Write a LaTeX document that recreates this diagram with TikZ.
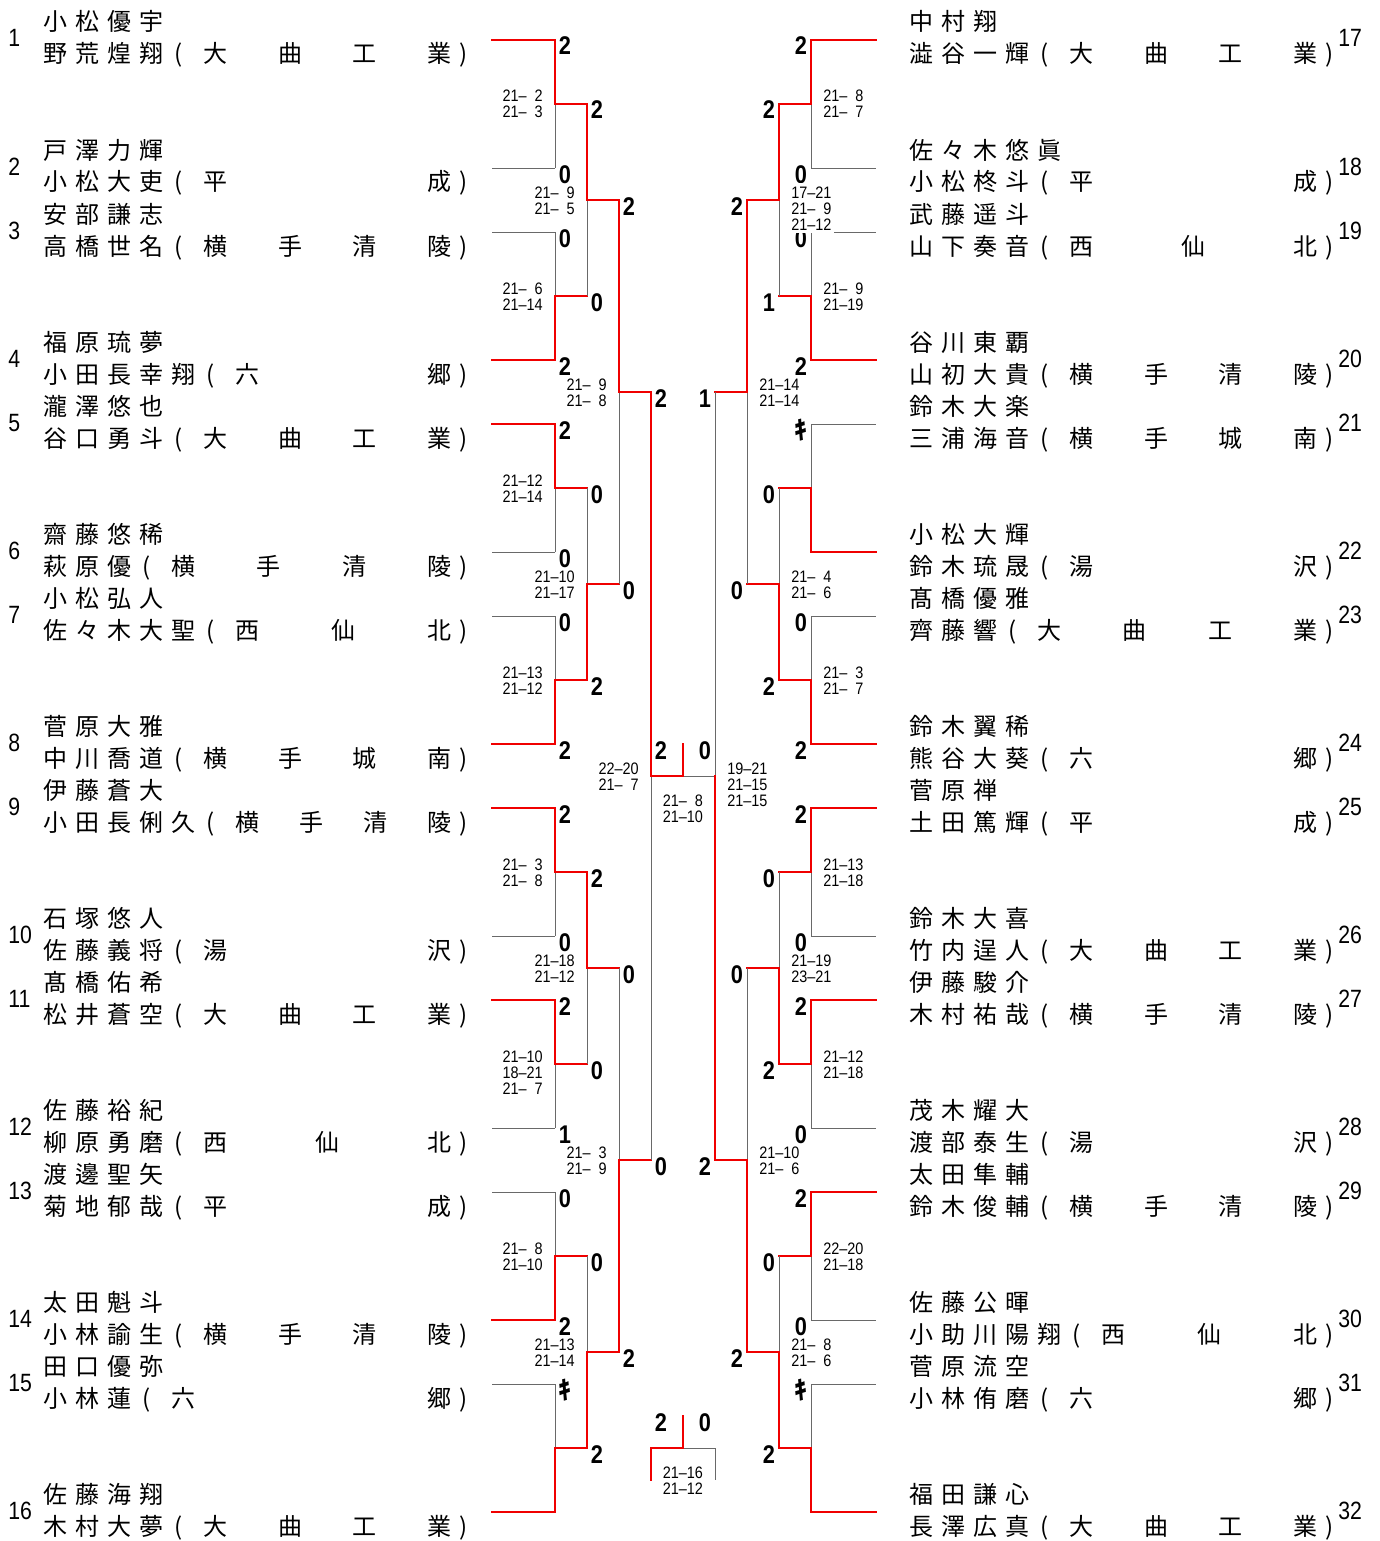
\documentclass[tikz,border=0pt]{standalone}
\usepackage{fontspec}
\setmainfont{Noto Sans CJK JP}
\newfontfamily\cjk{Noto Sans CJK JP}
\newfontfamily\latn{Liberation Sans}[FakeStretch=0.85]
\newfontfamily\latnn{Liberation Sans}[FakeStretch=0.87]
\definecolor{winred}{RGB}{240,0,0}
\definecolor{losegray}{RGB}{105,105,105}

\tikzset{
  win/.style={draw=winred,line width=1pt,line cap=rect},
  lose/.style={draw=losegray,line width=0.5pt},
  nm/.style={inner sep=0pt,font=\cjk\fontsize{12pt}{14pt}\selectfont},
  num/.style={inner sep=0pt,font=\latn\fontsize{12.5pt}{14pt}\selectfont},
  digit/.style={inner sep=0pt,anchor=base,font=\latn\bfseries\fontsize{12.8pt}{14pt}\selectfont},
  game/.style={inner sep=0pt,font=\latnn\fontsize{8.3pt}{8pt}\selectfont}
}

% Zeichen in festen Zellen bzw. gleichmaessig verteilt
\def\cellrow#1{\cellrowA#1\relax}
\def\cellrowA#1{\ifx#1\relax\else\makebox[16pt]{#1}\expandafter\cellrowA\fi}
\def\spreadrow#1{\spreadfirst#1\relax}
\def\spreadfirst#1{\makebox[16pt]{#1}\spreadrest}
\def\spreadrest#1{\ifx#1\relax\else\hfill\makebox[16pt]{#1}\expandafter\spreadrest\fi}
\newcommand\gm[2]{\makebox[8pt][r]{#1}\makebox[4pt]{\textendash}\makebox[8pt][r]{#2}}
\newcommand\ki{{\cjk\bfseries ｷ}}

% Spieler links / rechts
\newcommand\plL[5]{%
  \node[num,anchor=base west] (n#1) at (8,#2+7) {#1};
  \node[nm,anchor=base west] (p#1a) at (39,#2-9) {\cellrow{#3}};
  \node[nm,anchor=base west] (p#1b) at (39,#2+23)
    {\hbox to 208pt{\cellrow{#4}\makebox[16pt]{\hspace*{-5pt}(}\spreadrow{#5}}\kern2pt)};
}
\newcommand\plR[5]{%
  \node[num,anchor=base west] (n#1) at (1338,#2+7) {#1};
  \node[nm,anchor=base west] (p#1a) at (905,#2-9) {\cellrow{#3}};
  \node[nm,anchor=base west] (p#1b) at (905,#2+23)
    {\hbox to 208pt{\cellrow{#4}\makebox[16pt]{\hspace*{-5pt}(}\spreadrow{#5}}\kern2pt)};
}

% Spiel: x der Senkrechten, y oben, y unten, Sieger t/b, Saetze oben/unten, Ergebnisse
\newcommand\matchL[8][]{%
  \pgfmathsetmacro\ym{(#3+#4)/2}
  \if#5t
    \draw[lose] (#2,\ym) -- (#2,#4);
    \draw[win] (#2,#3) -- (#2,\ym) -- ++(32,0);
  \else
    \draw[lose] (#2,#3) -- (#2,\ym);
    \draw[win] (#2,#4) -- (#2,\ym) -- ++(32,0);
  \fi
  \node[digit] at (#2+10,#3+15) {#6};
  \node[digit] at (#2+10,#4+15) {#7};
  \def\gl{#8}\ifx\gl\empty\else
  \foreach \a/\b [count=\j from 0] in {#8}
    \node[game,anchor=base east,#1] at (#2-12,\ym-2+16*\j) {\gm{\a}{\b}};
  \fi
}
\newcommand\matchR[8][]{%
  \pgfmathsetmacro\ym{(#3+#4)/2}
  \if#5t
    \draw[lose] (#2,\ym) -- (#2,#4);
    \draw[win] (#2,#3) -- (#2,\ym) -- ++(-32,0);
  \else
    \draw[lose] (#2,#3) -- (#2,\ym);
    \draw[win] (#2,#4) -- (#2,\ym) -- ++(-32,0);
  \fi
  \node[digit] at (#2-10,#3+15) {#6};
  \node[digit] at (#2-10,#4+15) {#7};
  \def\gl{#8}\ifx\gl\empty\else
  \foreach \a/\b [count=\j from 0] in {#8}
    \node[game,anchor=base west,#1] at (#2+12,\ym-2+16*\j) {\gm{\a}{\b}};
  \fi
}

\begin{document}
\begin{tikzpicture}[x=0.5pt,y=-0.5pt]
\useasboundingbox (0,0) rectangle (1380,1541);
% Spieler links
\plL{1}{40}{小松優宇}{野荒煌翔}{大曲工業}
\plL{2}{168}{戸澤力輝}{小松大吏}{平成}
\plL{3}{232}{安部謙志}{高橋世名}{横手清陵}
\plL{4}{360}{福原琉夢}{小田長幸翔}{六郷}
\plL{5}{424}{瀧澤悠也}{谷口勇斗}{大曲工業}
\plL{6}{552}{齋藤悠稀}{萩原優}{横手清陵}
\plL{7}{616}{小松弘人}{佐々木大聖}{西仙北}
\plL{8}{744}{菅原大雅}{中川喬道}{横手城南}
\plL{9}{808}{伊藤蒼大}{小田長俐久}{横手清陵}
\plL{10}{936}{石塚悠人}{佐藤義将}{湯沢}
\plL{11}{1000}{髙橋佑希}{松井蒼空}{大曲工業}
\plL{12}{1128}{佐藤裕紀}{柳原勇磨}{西仙北}
\plL{13}{1192}{渡邊聖矢}{菊地郁哉}{平成}
\plL{14}{1320}{太田魁斗}{小林諭生}{横手清陵}
\plL{15}{1384}{田口優弥}{小林蓮}{六郷}
\plL{16}{1512}{佐藤海翔}{木村大夢}{大曲工業}
% Spieler rechts
\plR{17}{40}{中村翔}{澁谷一輝}{大曲工業}
\plR{18}{168}{佐々木悠眞}{小松柊斗}{平成}
\plR{19}{232}{武藤遥斗}{山下奏音}{西仙北}
\plR{20}{360}{谷川東覇}{山初大貴}{横手清陵}
\plR{21}{424}{鈴木大楽}{三浦海音}{横手城南}
\plR{22}{552}{小松大輝}{鈴木琉晟}{湯沢}
\plR{23}{616}{髙橋優雅}{齊藤響}{大曲工業}
\plR{24}{744}{鈴木翼稀}{熊谷大葵}{六郷}
\plR{25}{808}{菅原禅}{土田篤輝}{平成}
\plR{26}{936}{鈴木大喜}{竹内逞人}{大曲工業}
\plR{27}{1000}{伊藤駿介}{木村祐哉}{横手清陵}
\plR{28}{1128}{茂木耀大}{渡部泰生}{湯沢}
\plR{29}{1192}{太田隼輔}{鈴木俊輔}{横手清陵}
\plR{30}{1320}{佐藤公暉}{小助川陽翔}{西仙北}
\plR{31}{1384}{菅原流空}{小林侑磨}{六郷}
\plR{32}{1512}{福田謙心}{長澤広真}{大曲工業}
% Startlinien
\foreach \y/\w in {40/1,168/0,232/0,360/1,424/1,552/0,616/0,744/1,808/1,936/0,1000/1,1128/0,1192/0,1320/1,1384/0,1512/1}
  {\ifnum\w=1 \draw[win] (492,\y) -- (555,\y); \else \draw[lose] (492,\y) -- (555,\y); \fi}
\foreach \y/\w in {40/1,168/0,232/0,360/1,424/0,552/1,616/0,744/1,808/1,936/0,1000/1,1128/0,1192/1,1320/0,1384/0,1512/1}
  {\ifnum\w=1 \draw[win] (811,\y) -- (876,\y); \else \draw[lose] (811,\y) -- (876,\y); \fi}
% 1. Runde
\matchL{555}{40}{168}{t}{2}{0}{21/2,21/3}
\matchL{555}{232}{360}{b}{0}{2}{21/6,21/14}
\matchL{555}{424}{552}{t}{2}{0}{21/12,21/14}
\matchL{555}{616}{744}{b}{0}{2}{21/13,21/12}
\matchL{555}{808}{936}{t}{2}{0}{21/3,21/8}
\matchL{555}{1000}{1128}{t}{2}{1}{21/10,18/21,21/7}
\matchL{555}{1192}{1320}{b}{0}{2}{21/8,21/10}
\matchL{555}{1384}{1512}{b}{\ki}{}{}
\matchR{811}{40}{168}{t}{2}{0}{21/8,21/7}
\matchR{811}{232}{360}{b}{0}{2}{21/9,21/19}
\matchR{811}{424}{552}{b}{\ki}{}{}
\matchR{811}{616}{744}{b}{0}{2}{21/3,21/7}
\matchR{811}{808}{936}{t}{2}{0}{21/13,21/18}
\matchR{811}{1000}{1128}{t}{2}{0}{21/12,21/18}
\matchR{811}{1192}{1320}{t}{2}{0}{22/20,21/18}
\matchR{811}{1384}{1512}{b}{\ki}{}{}
% 2. Runde
\matchL{587}{104}{296}{t}{2}{0}{21/9,21/5}
\matchL{587}{488}{680}{b}{0}{2}{21/10,21/17}
\matchL{587}{872}{1064}{t}{2}{0}{21/18,21/12}
\matchL{587}{1256}{1448}{b}{0}{2}{21/13,21/14}
\matchR[fill=white,inner sep=1.5pt,xshift=-1.5pt]{779}{104}{296}{t}{2}{1}{17/21,21/9,21/12}
\matchR{779}{488}{680}{b}{0}{2}{21/4,21/6}
\matchR{779}{872}{1064}{b}{0}{2}{21/19,23/21}
\matchR{779}{1256}{1448}{b}{0}{2}{21/8,21/6}
% 3. Runde
\matchL{619}{200}{584}{t}{2}{0}{21/9,21/8}
\matchL{619}{968}{1352}{b}{0}{2}{21/3,21/9}
\matchR{747}{200}{584}{t}{2}{0}{21/14,21/14}
\matchR{747}{968}{1352}{b}{0}{2}{21/10,21/6}
% Halbfinale
\matchL{651}{392}{1160}{t}{2}{0}{22/20,21/7}
\draw[lose] (715,392) -- (715,776) -- (683,776);
\draw[win] (715,1160) -- (715,776);
\node[digit] at (705,407) {1};
\node[digit] at (705,1175) {2};
\foreach \a/\b [count=\j from 0] in {19/21,21/15,21/15}
  \node[game,anchor=base west] at (727,774+16*\j) {\gm{\a}{\b}};
% Finale
\draw[win] (683,776) -- (683,744);
\node[digit] at (661,759) {2};
\node[digit] at (705,759) {0};
\node[game,anchor=base] at (683,806) {\gm{21}{8}};
\node[game,anchor=base] at (683,822) {\gm{21}{10}};
% Spiel um Platz 3
\draw[lose] (683,1448) -- (715,1448) -- (715,1480);
\draw[win] (651,1480) -- (651,1448) -- (683,1448) -- (683,1416);
\node[digit] at (661,1431) {2};
\node[digit] at (705,1431) {0};
\node[game,anchor=base] at (683,1478) {\gm{21}{16}};
\node[game,anchor=base] at (683,1494) {\gm{21}{12}};
\end{tikzpicture}
\end{document}
